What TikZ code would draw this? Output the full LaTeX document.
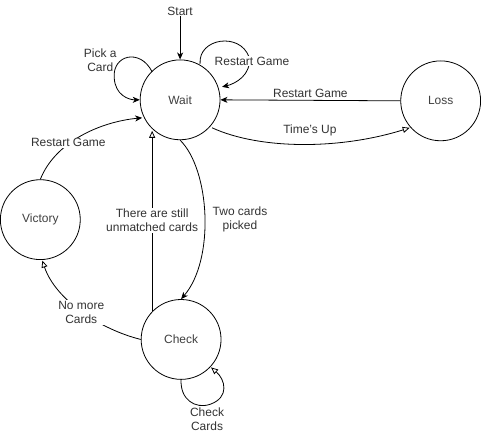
\documentclass[tikz,border=0pt]{standalone}
\usepackage{fontspec}
\setmainfont{Liberation Sans}
\usetikzlibrary{arrows.meta}
\begin{document}
\begin{tikzpicture}[x=1pt,y=-1pt,
  state/.style={draw,circle,line width=0.8pt,minimum size=80pt,inner sep=0pt,font=\fontsize{12}{14}\selectfont,text=black!75},
  lbl/.style={fill=white,inner sep=1pt,align=center,font=\fontsize{12}{14}\selectfont,text=black!80},
  conn/.style={line width=0.8pt},
  fa/.style={-{Stealth[length=7pt,width=6pt,inset=2pt]}},
  oa/.style={-{Triangle[open,length=7pt,width=6pt]}}]
\path[fill=white] (0,0) rectangle (481,433);
\node[state] (w) at (180,100) {Wait};
\node[state] (l) at (441,101) {Loss};
\node[state] (v) at (40,220) {Victory};
\node[state] (c) at (181,340) {Check};
\node[lbl] (start) at (180,11) {Start};
\coordinate (wa) at (152,72);
\coordinate (wb) at (200,64);
\coordinate (wc) at (222,87);
\draw[conn,fa] (start) -- (w);
% Pick a card loop
\draw[conn,fa] (wa) .. controls (140,48) and (112,55) .. (114,78) .. controls (115,95) and (128,100) .. (w.west);
\node[lbl,fill=none] (pick) at (100,60) {Pick a\\Card};
% Restart self loop
\draw[conn,fa] (wb) .. controls (198,38) and (240,32) .. (249,57) .. controls (252,75) and (235,84) .. (wc);
\node[lbl] (rs) at (252,61) {Restart Game};
% Loss -> Wait
\draw[conn,fa] (l.west) -- (w.east) node[lbl,pos=0.5,above=1pt,fill=none] (rl) {Restart Game};
% Wait -> Loss
\coordinate (wd) at (212,128);
\coordinate (le) at (410,128);
\draw[conn,oa] (wd) .. controls (260,150) and (340,150) .. (le);
\node[lbl,fill=none] (tu) at (310,131) {Time's Up};
% Victory -> Wait
\coordinate (wf) at (142,118);
\draw[conn,fa] (v.north) .. controls (55,142) and (100,122) .. (wf);
\node[lbl] (rv) at (68,143) {Restart Game};
% Wait -> Check
\draw[conn,fa] (w.south) .. controls (210,170) and (215,260) .. (c.north);
\node[lbl] (two) at (240,220) {Two cards\\picked};
% Check -> Wait
\coordinate (ct) at (152,312);
\coordinate (wt) at (152,131);
\draw[conn,oa] (ct) -- (wt);
\node[lbl] (um) at (152,221) {There are still\\unmatched cards};
% Check -> Victory
\coordinate (vb) at (42,261);
\draw[conn,oa] (c.west) .. controls (100,330) and (55,300) .. (vb);
\node[lbl] (nm) at (81,313) {No more\\Cards};
% Check loop
\coordinate (cl) at (211,368);
\draw[conn,oa] (c.south) .. controls (180,400) and (195,410) .. (210,405) .. controls (230,398) and (225,380) .. (cl);
\node[lbl] (cc) at (207,420) {Check\\Cards};
\end{tikzpicture}
\end{document}
